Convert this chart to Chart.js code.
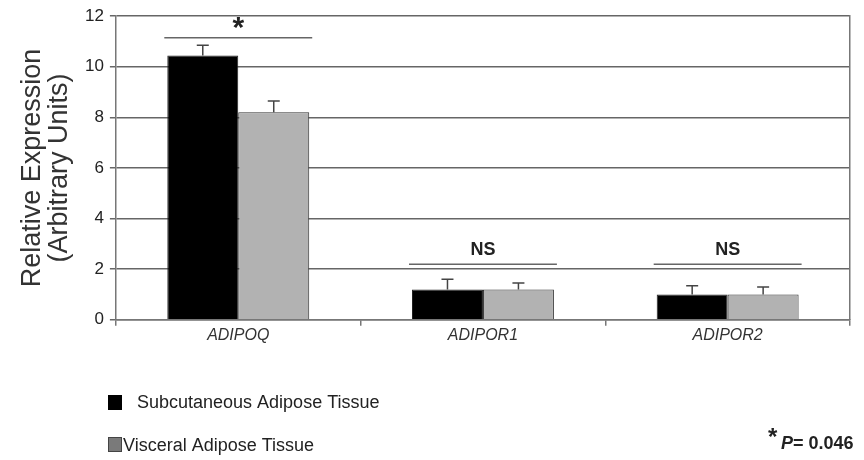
<!DOCTYPE html>
<html>
<head>
<meta charset="utf-8">
<script src="https://cdn.jsdelivr.net/npm/chart.js@4.4.0/dist/chart.umd.min.js"></script>
<style>
  html, body { margin: 0; padding: 0; background: #fff; }
  #wrap { width: 864px; height: 460px; position: relative; }
</style>
</head>
<body>
<div id="wrap"><canvas id="exprChart"></canvas></div>
<script>
// data
const genes = ['ADIPOQ', 'ADIPOR1', 'ADIPOR2'];
const subcutaneous = [10.45, 1.2, 1.0];
const subcutaneousErr = [0.4, 0.4, 0.35];
const visceral = [8.2, 1.2, 1.0];
const visceralErr = [0.45, 0.25, 0.3];
const yTicks = [0, 2, 4, 6, 8, 10, 12];
const sigLabels = ['*', 'NS', 'NS'];
const sigLevel = [11.15, 2.2, 2.2];

const FONT = '"Liberation Sans", Arial, sans-serif';

// error bars on top of each bar
const errorBars = {
  id: 'errorBars',
  afterDatasetsDraw(chart) {
    const c = chart.ctx;
    const y = chart.scales.y;
    const errs = [subcutaneousErr, visceralErr];
    c.save();
    c.strokeStyle = '#444';
    c.lineWidth = 1.5;
    chart.data.datasets.forEach((ds, di) => {
      chart.getDatasetMeta(di).data.forEach((bar, i) => {
        const top = y.getPixelForValue(ds.data[i] + errs[di][i]);
        c.beginPath();
        c.moveTo(bar.x, bar.y);
        c.lineTo(bar.x, top);
        c.moveTo(bar.x - 6, top);
        c.lineTo(bar.x + 6, top);
        c.stroke();
      });
    });
    c.restore();
  }
};

// significance brackets, legend and p value
const extras = {
  id: 'extras',
  afterDraw(chart) {
    const c = chart.ctx;
    const y = chart.scales.y;
    const m0 = chart.getDatasetMeta(0).data;
    const m1 = chart.getDatasetMeta(1).data;
    c.save();
    genes.forEach((g, i) => {
      const left = m0[i].x - m0[i].width / 2 - 3;
      const right = m1[i].x + m1[i].width / 2 + 3;
      const ly = y.getPixelForValue(sigLevel[i]);
      c.strokeStyle = '#666';
      c.lineWidth = 1.5;
      c.beginPath();
      c.moveTo(left, ly);
      c.lineTo(right, ly);
      c.stroke();
      c.fillStyle = '#222';
      c.textAlign = 'center';
      c.textBaseline = 'alphabetic';
      if (sigLabels[i] === '*') {
        c.font = 'bold 30px ' + FONT;
        c.fillText('*', (left + right) / 2, ly - 1);
      } else {
        c.font = 'bold 18px ' + FONT;
        c.fillText(sigLabels[i], (left + right) / 2, ly - 9);
      }
    });

    // legend
    c.textAlign = 'left';
    c.textBaseline = 'middle';
    c.font = '18px ' + FONT;
    c.fillStyle = '#000';
    c.fillRect(108, 395, 14, 15);
    c.fillStyle = '#222';
    c.fillText('Subcutaneous Adipose Tissue', 137, 403);
    c.fillStyle = '#7a7a7a';
    c.fillRect(108, 437, 14, 15);
    c.strokeStyle = '#444';
    c.lineWidth = 1;
    c.strokeRect(108.5, 437.5, 13, 14);
    c.fillStyle = '#222';
    c.fillText('Visceral Adipose Tissue', 123, 446);

    // p value
    c.font = 'bold 24px ' + FONT;
    c.fillText('*', 768, 438);
    c.font = 'bold italic 18px ' + FONT;
    c.fillText('P', 781, 444);
    c.font = 'bold 18px ' + FONT;
    c.fillText('= 0.046', 793, 444);
    c.restore();
  }
};

const ctx = document.getElementById('exprChart').getContext('2d');

new Chart(ctx, {
  type: 'bar',
  data: {
    labels: genes,
    datasets: [
      {
        label: 'Subcutaneous Adipose Tissue',
        data: subcutaneous,
        backgroundColor: '#000',
        borderColor: '#222',
        borderWidth: 1
      },
      {
        label: 'Visceral Adipose Tissue',
        data: visceral,
        backgroundColor: '#b2b2b2',
        borderColor: '#333',
        borderWidth: 1
      }
    ]
  },
  options: {
    responsive: true,
    maintainAspectRatio: false,
    animation: false,
    layout: { padding: { top: 16, right: 6, bottom: 115, left: 19 } },
    plugins: {
      legend: { display: false },
      tooltip: { enabled: false }
    },
    datasets: {
      bar: { categoryPercentage: 0.58, barPercentage: 1 }
    },
    scales: {
      x: {
        grid: {
          offset: true,
          drawOnChartArea: false,
          color: '#777',
          tickLength: 6,
          lineWidth: 1.5
        },
        border: { color: '#777', width: 1.5 },
        ticks: {
          color: '#333',
          padding: 0,
          font: { family: FONT, size: 16, style: 'italic' }
        }
      },
      y: {
        min: 0,
        max: 12,
        afterBuildTicks(axis) {
          axis.ticks = yTicks.map(v => ({ value: v }));
        },
        grid: { color: '#666', lineWidth: 1.5, tickLength: 6 },
        border: { color: '#777', width: 1.5 },
        ticks: {
          color: '#222',
          padding: 6,
          font: { family: FONT, size: 17 }
        },
        title: {
          display: true,
          text: ['Relative Expression', '(Arbitrary Units)'],
          color: '#333',
          font: { family: FONT, size: 27, lineHeight: 1.0 },
          padding: { top: 0, bottom: 6 }
        }
      },
      y2: {
        position: 'right',
        min: 0,
        max: 12,
        grid: { display: false },
        ticks: { display: false },
        border: { color: '#777', width: 1.5 }
      }
    }
  },
  plugins: [errorBars, extras]
});
</script>
</body>
</html>
